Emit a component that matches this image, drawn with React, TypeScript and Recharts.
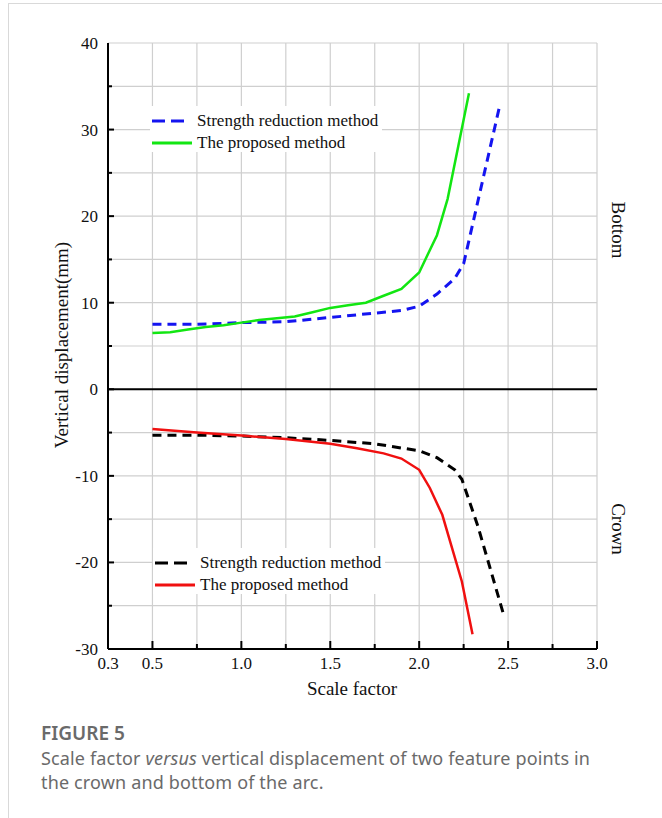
import React from 'react';
import { LineChart, Line, XAxis, YAxis, CartesianGrid, ReferenceLine } from 'recharts';

const SERIF = '"Liberation Serif", "Times New Roman", serif';
const SANS = '"Noto Sans", "Open Sans", sans-serif';

const X_TICKS = [0.25, 0.5, 0.75, 1.0, 1.25, 1.5, 1.75, 2.0, 2.25, 2.5, 2.75, 3.0];
const X_TICK_LABELS = ['0.3', '0.5', '', '1.0', '', '1.5', '', '2.0', '', '2.5', '', '3.0'];
const Y_TICKS = [-30, -25, -20, -15, -10, -5, 0, 5, 10, 15, 20, 25, 30, 35, 40];
const Y_TICK_LABELS = ['-30', '', '-20', '', '-10', '', '0', '', '10', '', '20', '', '30', '', '40'];

// bottom point - strength reduction method
const bottomSrmX = [0.5, 0.75, 1.0, 1.25, 1.5, 1.75, 1.9, 2.0, 2.1, 2.2, 2.25, 2.45];
const bottomSrmY = [7.5, 7.5, 7.7, 7.8, 8.3, 8.8, 9.1, 9.6, 11.0, 12.8, 14.5, 32.5];

// bottom point - proposed method
const bottomNewX = [0.5, 0.6, 0.7, 0.8, 0.9, 1.0, 1.1, 1.2, 1.3, 1.4, 1.5, 1.6, 1.7, 1.8, 1.9, 2.0, 2.1, 2.16, 2.28];
const bottomNewY = [6.5, 6.6, 6.9, 7.2, 7.4, 7.7, 8.0, 8.2, 8.4, 8.9, 9.4, 9.7, 10.0, 10.8, 11.6, 13.5, 17.8, 22.0, 34.2];

// crown point - strength reduction method
const crownSrmX = [0.5, 0.75, 1.0, 1.25, 1.5, 1.75, 2.0, 2.1, 2.2, 2.24, 2.33, 2.48];
const crownSrmY = [-5.3, -5.3, -5.4, -5.6, -5.9, -6.3, -7.1, -7.9, -9.3, -10.4, -15.8, -26.4];

// crown point - proposed method
const crownNewX = [0.5, 0.75, 1.0, 1.25, 1.5, 1.65, 1.8, 1.9, 2.0, 2.06, 2.13, 2.24, 2.3];
const crownNewY = [-4.6, -5.0, -5.35, -5.75, -6.3, -6.8, -7.4, -8.0, -9.3, -11.4, -14.5, -22.2, -28.3];

const toPoints = (xs: number[], ys: number[]) => xs.map((x, i) => ({ x, y: ys[i] }));

const BottomTick = (props: any) => {
  const { x, y, payload } = props;
  const i = X_TICKS.indexOf(payload.value);
  const label = X_TICK_LABELS[i] ?? '';
  const len = i === 0 ? 0 : label ? 8 : 5;
  return (
    <g>
      {len > 0 && <line x1={x} x2={x} y1={y} y2={y - len} stroke="#000" strokeWidth={2} />}
      <text x={x} y={y + 20} textAnchor="middle" fontSize={17} fontFamily={SERIF} fill="#111">{label}</text>
    </g>
  );
};

const TopTick = (props: any) => {
  const { x, y, payload } = props;
  const i = X_TICKS.indexOf(payload.value);
  if (i === 0 || i === X_TICKS.length - 1) return <g />;
  const len = X_TICK_LABELS[i] ? 8 : 5;
  return <line x1={x} x2={x} y1={y} y2={y + len} stroke="#000" strokeWidth={2} />;
};

const LeftTick = (props: any) => {
  const { x, y, payload } = props;
  const i = Y_TICKS.indexOf(payload.value);
  const label = Y_TICK_LABELS[i] ?? '';
  const len = i === 0 || i === Y_TICKS.length - 1 ? 0 : label ? 6 : 4;
  return (
    <g>
      {len > 0 && <line x1={x} x2={x + len} y1={y} y2={y} stroke="#000" strokeWidth={2} />}
      <text x={x - 10} y={y} dy="0.35em" textAnchor="end" fontSize={17} fontFamily={SERIF} fill="#111">{label}</text>
    </g>
  );
};

interface LegendItem {
  label: string;
  color: string;
  dash?: string;
}

function ChartLegend({ left, top, items }: { left: number; top: number; items: LegendItem[] }) {
  return (
    <div style={{ position: 'absolute', left, top, width: 232, height: 46, background: '#fff' }}>
      {items.map((it, i) => (
        <div key={i} style={{ position: 'absolute', left: 2, top: 4 + i * 21.5, height: 22, display: 'flex', alignItems: 'center' }}>
          <svg width={42} height={22}>
            <line x1={0} x2={it.dash ? 32 : 40} y1={11} y2={11} stroke={it.color} strokeWidth={3} strokeDasharray={it.dash} />
          </svg>
          <span style={{ marginLeft: 3, fontFamily: SERIF, fontSize: 17, color: '#111', whiteSpace: 'nowrap' }}>{it.label}</span>
        </div>
      ))}
    </div>
  );
}

export default function App() {
  return (
    <div style={{ position: 'absolute', left: 0, top: 0, width: 662, height: 818, overflow: 'hidden', background: '#fff' }}>
      <div style={{ position: 'absolute', left: 8, top: 3, width: 700, height: 900, borderTop: '1px solid #d9d9d9', borderLeft: '1px solid #d9d9d9' }} />

      <div style={{ position: 'absolute', left: 0, top: 0 }}>
        <LineChart width={662} height={700} margin={{ top: 43, right: 65, left: 58, bottom: 21 }}>
          <CartesianGrid stroke="#cfcfcf" strokeWidth={1.2} />
          <XAxis
            dataKey="x"
            type="number"
            domain={[0.25, 3]}
            ticks={X_TICKS}
            allowDataOverflow
            height={30}
            tickSize={0}
            tickMargin={0}
            tick={<BottomTick />}
            axisLine={{ stroke: '#000', strokeWidth: 2 }}
            interval={0}
          />
          <XAxis
            xAxisId="top"
            orientation="top"
            type="number"
            domain={[0.25, 3]}
            ticks={X_TICKS}
            allowDataOverflow
            height={0}
            tickSize={0}
            tickMargin={0}
            tick={<TopTick />}
            axisLine={{ stroke: '#000', strokeWidth: 2 }}
            interval={0}
          />
          <YAxis
            type="number"
            domain={[-30, 40]}
            ticks={Y_TICKS}
            allowDataOverflow
            width={50}
            tickSize={0}
            tickMargin={0}
            tick={<LeftTick />}
            axisLine={{ stroke: '#000', strokeWidth: 2 }}
            interval={0}
          />
          <YAxis
            yAxisId="right"
            orientation="right"
            type="number"
            domain={[-30, 40]}
            width={0}
            tick={false}
            tickLine={false}
            axisLine={{ stroke: '#000', strokeWidth: 2 }}
          />
          <ReferenceLine y={0} stroke="#000" strokeWidth={2} />
          <Line data={toPoints(bottomSrmX, bottomSrmY)} dataKey="y" stroke="#1414f0" strokeWidth={3} strokeDasharray="9 6" dot={false} isAnimationActive={false} />
          <Line data={toPoints(crownSrmX, crownSrmY)} dataKey="y" stroke="#000" strokeWidth={3} strokeDasharray="9 6" dot={false} isAnimationActive={false} />
          <Line data={toPoints(bottomNewX, bottomNewY)} dataKey="y" stroke="#12e612" strokeWidth={2.5} dot={false} isAnimationActive={false} />
          <Line data={toPoints(crownNewX, crownNewY)} dataKey="y" stroke="#f01010" strokeWidth={2.5} dot={false} isAnimationActive={false} />
        </LineChart>
      </div>

      <ChartLegend
        left={150}
        top={106}
        items={[
          { label: 'Strength reduction method', color: '#1414f0', dash: '13 6' },
          { label: 'The proposed method', color: '#12e612' },
        ]}
      />
      <ChartLegend
        left={153}
        top={548}
        items={[
          { label: 'Strength reduction method', color: '#000', dash: '13 6' },
          { label: 'The proposed method', color: '#f01010' },
        ]}
      />

      <div style={{ position: 'absolute', left: 62, top: 345, transform: 'translate(-50%, -50%) rotate(-90deg)', fontFamily: SERIF, fontSize: 19, color: '#111', whiteSpace: 'nowrap' }}>
        Vertical displacement(mm)
      </div>
      <div style={{ position: 'absolute', left: 352, top: 689, transform: 'translate(-50%, -50%)', fontFamily: SERIF, fontSize: 19, color: '#111', whiteSpace: 'nowrap' }}>
        Scale factor
      </div>
      <div style={{ position: 'absolute', left: 618, top: 230, transform: 'translate(-50%, -50%) rotate(90deg)', fontFamily: SERIF, fontSize: 19, color: '#111', whiteSpace: 'nowrap' }}>
        Bottom
      </div>
      <div style={{ position: 'absolute', left: 618, top: 529, transform: 'translate(-50%, -50%) rotate(90deg)', fontFamily: SERIF, fontSize: 19, color: '#111', whiteSpace: 'nowrap' }}>
        Crown
      </div>

      <div style={{ position: 'absolute', left: 41, top: 724, fontFamily: SANS, fontWeight: 600, fontSize: 19, lineHeight: '19px', color: '#6a6a6a' }}>
        FIGURE 5
      </div>
      <div style={{ position: 'absolute', left: 41, top: 747, fontFamily: SANS, fontSize: 18, letterSpacing: '0.15px', lineHeight: '23.5px', color: '#6a6a6a', whiteSpace: 'nowrap' }}>
        Scale factor <i>versus</i> vertical displacement of two feature points in
        <br />
        the crown and bottom of the arc.
      </div>
    </div>
  );
}
